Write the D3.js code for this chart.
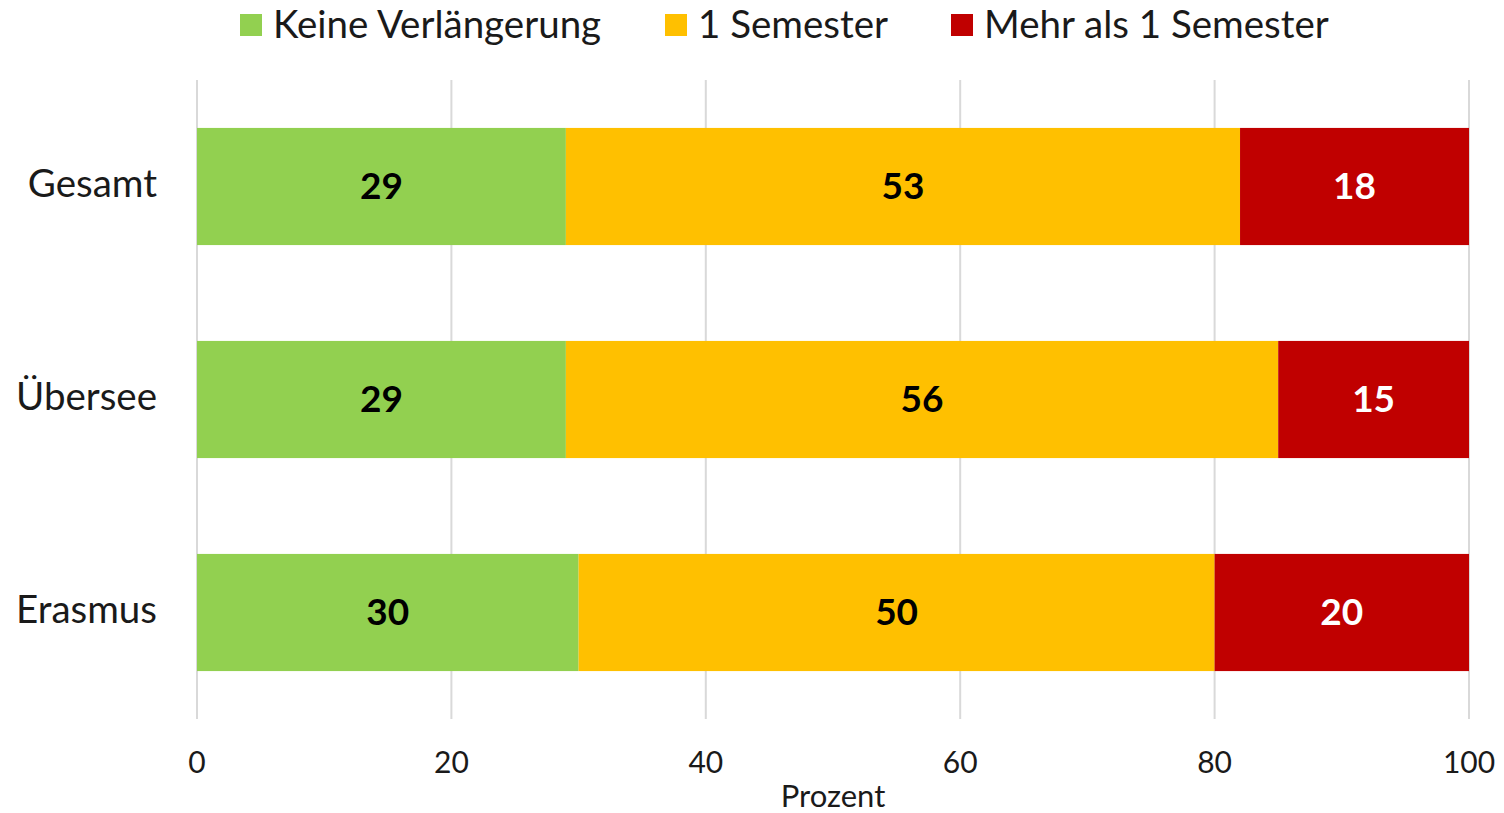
<!DOCTYPE html>
<html>
<head>
<meta charset="utf-8">
<script src="https://cdn.jsdelivr.net/npm/d3@7"></script>
<style>
  body { margin: 0; background: #fff; }
  svg { display: block; font-family: Lato, "Open Sans", sans-serif; }
</style>
</head>
<body>
<svg id="chart"></svg>
<script>
// data
const categories = ["Gesamt", "Übersee", "Erasmus"];
const seriesNames = ["Keine Verlängerung", "1 Semester", "Mehr als 1 Semester"];
const keineVerl = [29, 29, 30];
const einSemester = [53, 56, 50];
const mehrSemester = [18, 15, 20];
const xTicks = [0, 20, 40, 60, 80, 100];
const colors = ["#92d050", "#ffc000", "#c00000"];
const labelColors = ["#000", "#000", "#fff"];

const svgWidth = 1504, svgHeight = 813;
const marginLeft = 197, marginRight = 35, marginTop = 80, marginBottom = 94;

const svg = d3.select("#chart")
  .attr("width", svgWidth)
  .attr("height", svgHeight);

const rows = categories.map((c, i) => ({
  cat: c,
  [seriesNames[0]]: keineVerl[i],
  [seriesNames[1]]: einSemester[i],
  [seriesNames[2]]: mehrSemester[i]
}));

const stacked = d3.stack().keys(seriesNames)(rows);

const x = d3.scaleLinear()
  .domain([0, 100])
  .range([marginLeft, svgWidth - marginRight]);

const y = d3.scaleBand()
  .domain(categories)
  .range([marginTop, svgHeight - marginBottom])
  .paddingInner(0.45)
  .paddingOuter(0.225);

// grid lines
svg.append("g")
  .selectAll("line")
  .data(xTicks)
  .join("line")
  .attr("x1", d => x(d))
  .attr("x2", d => x(d))
  .attr("y1", marginTop)
  .attr("y2", svgHeight - marginBottom)
  .attr("stroke", "#d9d9d9")
  .attr("stroke-width", 2);

// bars
const groups = svg.append("g")
  .selectAll("g")
  .data(stacked)
  .join("g")
  .attr("fill", (d, i) => colors[i]);

groups.selectAll("rect")
  .data(d => d)
  .join("rect")
  .attr("x", d => x(d[0]))
  .attr("y", d => y(d.data.cat))
  .attr("width", d => x(d[1]) - x(d[0]))
  .attr("height", y.bandwidth());

// value labels
svg.append("g")
  .selectAll("g")
  .data(stacked)
  .join("g")
  .attr("fill", (d, i) => labelColors[i])
  .selectAll("text")
  .data(d => d)
  .join("text")
  .attr("x", d => (x(d[0]) + x(d[1])) / 2)
  .attr("y", d => y(d.data.cat) + y.bandwidth() / 2 + 3)
  .attr("text-anchor", "middle")
  .attr("dominant-baseline", "middle")
  .style("font-size", "37px")
  .style("font-weight", "bold")
  .text(d => d[1] - d[0]);

// category labels
svg.append("g")
  .selectAll("text")
  .data(categories)
  .join("text")
  .attr("x", 157)
  .attr("y", d => y(d) + y.bandwidth() / 2 + 1)
  .attr("text-anchor", "end")
  .attr("dominant-baseline", "middle")
  .attr("fill", "#1a1a1a")
  .style("font-size", "38.5px")
  .text(d => d);

// x axis labels
svg.append("g")
  .selectAll("text")
  .data(xTicks)
  .join("text")
  .attr("x", d => x(d))
  .attr("y", 765)
  .attr("text-anchor", "middle")
  .attr("dominant-baseline", "middle")
  .attr("fill", "#1a1a1a")
  .style("font-size", "30px")
  .text(d => d);

svg.append("text")
  .attr("x", (x(0) + x(100)) / 2)
  .attr("y", 799)
  .attr("text-anchor", "middle")
  .attr("dominant-baseline", "middle")
  .attr("fill", "#1a1a1a")
  .style("font-size", "31px")
  .text("Prozent");

// legend
const legendX = [240, 665, 951];
const legend = svg.append("g")
  .selectAll("g")
  .data(seriesNames)
  .join("g")
  .attr("transform", (d, i) => `translate(${legendX[i]},0)`);

legend.append("rect")
  .attr("x", 0)
  .attr("y", 14)
  .attr("width", 22)
  .attr("height", 22)
  .attr("fill", (d, i) => colors[i]);

legend.append("text")
  .attr("x", 33)
  .attr("y", 28)
  .attr("dominant-baseline", "middle")
  .attr("fill", "#1a1a1a")
  .style("font-size", "38.5px")
  .text(d => d);
</script>
</body>
</html>
